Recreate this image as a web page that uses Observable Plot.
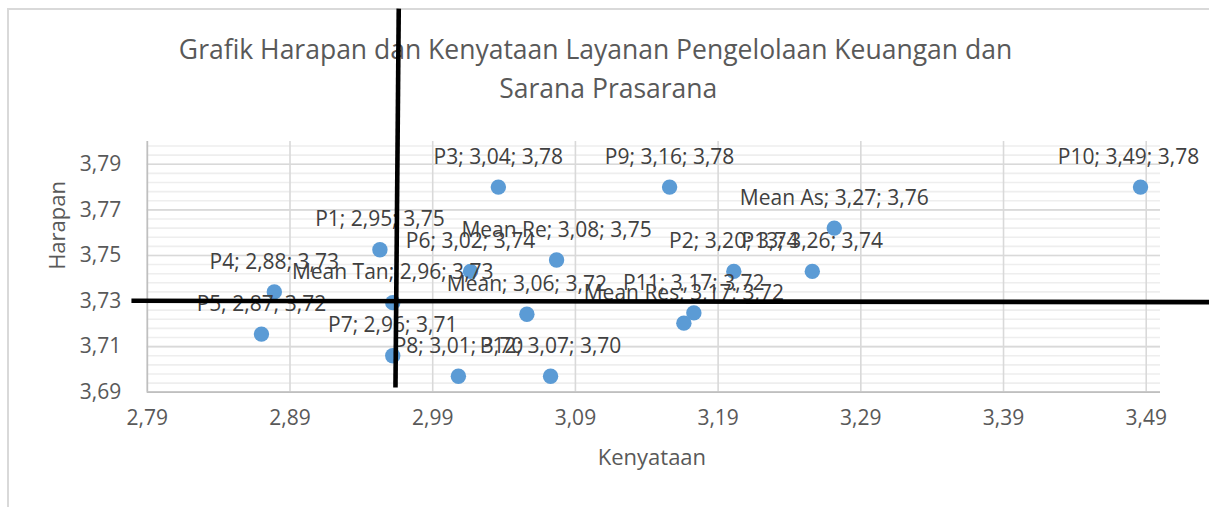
<!DOCTYPE html>
<html>
<head>
<meta charset="utf-8">
<script src="https://cdn.jsdelivr.net/npm/d3@7"></script>
<script src="https://cdn.jsdelivr.net/npm/@observablehq/plot@0.6"></script>
<style>
  html, body { margin: 0; padding: 0; background: #fff; overflow: hidden; }
  #wrap { position: relative; width: 1209px; height: 507px; overflow: hidden; }
  #border { position: absolute; left: 7px; top: 8px; width: 1400px; height: 700px;
            border-left: 2px solid #d9d9d9; border-top: 2px solid #d9d9d9; }
  #chart { position: absolute; left: 0; top: 0; }
</style>
</head>
<body>
<div id="wrap"><div id="border"></div><div id="chart"></div></div>
<script>
// ---- data ----
const titleLines = ["Grafik Harapan dan Kenyataan Layanan Pengelolaan Keuangan dan", "Sarana Prasarana"];
const xTitle = "Kenyataan";
const yTitle = "Harapan";
const names = ["P1","P2","P3","P4","P5","P6","P7","P8","P9","P10","P11","P12","P13",
               "Mean Tan","Mean As","Mean Re","Mean Res","Mean"];
const kenyataan = [2.953, 3.201, 3.036, 2.879, 2.870, 3.0165, 2.962, 3.008, 3.156, 3.486, 3.173, 3.0726, 3.256,
                   2.962, 3.2714, 3.0768, 3.166, 3.056];
const harapan   = [3.7525, 3.743, 3.780, 3.734, 3.7155, 3.743, 3.706, 3.697, 3.780, 3.780, 3.7248, 3.697, 3.743,
                   3.7293, 3.762, 3.748, 3.7203, 3.7242];
const xTicks = [2.79, 2.89, 2.99, 3.09, 3.19, 3.29, 3.39, 3.49];
const yTicks = [3.69, 3.71, 3.73, 3.75, 3.77, 3.79];
const yMinor = d3.range(0, 28).map(i => 3.69 + i * 0.004);
// quadrant divider lines (through Mean Tan), in data units
const quadX1 = [2.9662, 2.7789];
const quadY1 = [3.8583, 3.7301];
const quadX2 = [2.9639, 3.545];
const quadY2 = [3.6921, 3.7295];

// ---- build ----
const fmt = v => d3.format(".2f")(v).replace(".", ",");
const points = names.map((n, i) => ({name: n, x: kenyataan[i], y: harapan[i]}));
const lines = quadX1.map((_, i) => ({x1: quadX1[i], y1: quadY1[i], x2: quadX2[i], y2: quadY2[i]}));
const label = d => `${d.name}; ${fmt(d.x)}; ${fmt(d.y)}`;
const nearRight = d => d.x > 3.45;

const chart = Plot.plot({
  width: 1209,
  height: 507,
  marginLeft: 146.8,
  marginRight: 49,
  marginTop: 141,
  marginBottom: 115.3,
  style: {fontFamily: "'Open Sans', sans-serif", background: "transparent", overflow: "visible"},
  x: {domain: [2.79, 3.50], axis: null},
  y: {domain: [3.69, 3.80], axis: null},
  marks: [
    Plot.ruleY(yMinor, {stroke: "#eeeeee", strokeWidth: 1.6}),
    Plot.ruleY(yTicks, {stroke: "#d9d9d9", strokeWidth: 1.6}),
    Plot.ruleX(xTicks.slice(1), {stroke: "#d9d9d9", strokeWidth: 1.6}),
    Plot.ruleX([2.79], {stroke: "#bfbfbf", strokeWidth: 1.8}),
    Plot.ruleY([3.69], {stroke: "#bfbfbf", strokeWidth: 1.8}),
    // tick labels
    Plot.text(xTicks, {x: d => d, text: d => fmt(d), frameAnchor: "bottom", dy: 33, fontSize: 21, fill: "#595959"}),
    Plot.text(yTicks, {y: d => d, text: d => fmt(d), frameAnchor: "left", dx: -26, textAnchor: "end", fontSize: 21, fill: "#595959"}),
    // axis titles
    Plot.text([xTitle], {frameAnchor: "bottom", dx: -2, dy: 73, fontSize: 22, fill: "#595959"}),
    Plot.text([yTitle], {frameAnchor: "left", dx: -89, dy: 3, rotate: -90, fontSize: 22, fill: "#595959"}),
    // title
    Plot.text([titleLines[0]], {frameAnchor: "top", dx: -58.4, dy: -101, fontSize: 26.5, fill: "#595959"}),
    Plot.text([titleLines[1]], {frameAnchor: "top", dx: -45.6, dy: -62, fontSize: 26.5, fill: "#595959"}),
    // points
    Plot.dot(points, {x: "x", y: "y", r: 7.7, fill: "#5b9bd5", stroke: null}),
    Plot.text(points.filter(d => !nearRight(d)), {x: "x", y: "y", text: label, dy: -30, fontSize: 21, fill: "#404040"}),
    Plot.text(points.filter(nearRight), {x: "x", y: "y", text: label, dy: -30, dx: -12, fontSize: 21, fill: "#404040"}),
    // quadrant lines
    Plot.link(lines, {x1: "x1", y1: "y1", x2: "x2", y2: "y2", stroke: "#000", strokeWidth: 4.6})
  ]
});
document.getElementById("chart").appendChild(chart);
</script>
</body>
</html>
